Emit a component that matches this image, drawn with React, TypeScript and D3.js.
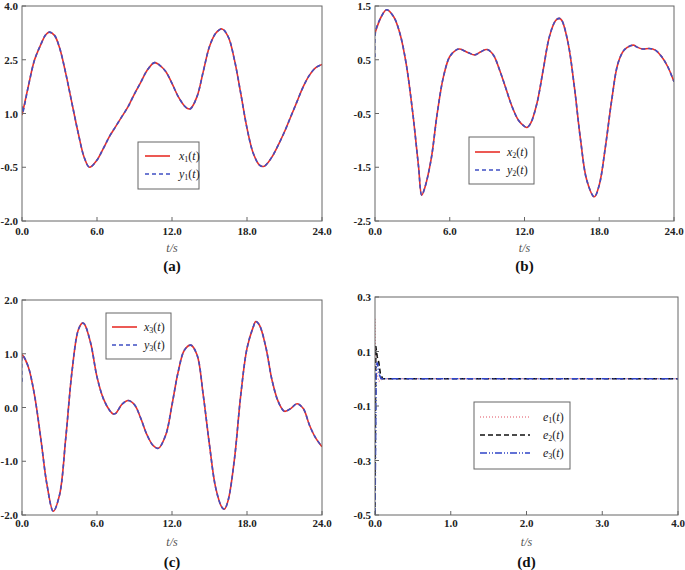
import React from "react";
import * as d3 from "d3";

// ---------- data ----------
const tA = [0, 0.05, 0.5, 1, 1.5, 1.9, 2.2, 2.6, 3, 3.5, 4, 4.5, 5, 5.4, 6, 6.5, 7, 7.5, 8, 8.5, 9, 9.5, 10, 10.6, 11, 11.5, 12, 12.5, 13, 13.3, 13.5, 14, 14.5, 15, 15.5, 16, 16.5, 17, 17.5, 18, 18.5, 19, 19.3, 19.5, 20, 20.5, 21, 21.5, 22, 22.5, 23, 23.5, 24];
const x1 = [0.96, 1.03, 1.75, 2.49, 2.92, 3.2, 3.27, 3.18, 2.84, 2.12, 1.28, 0.45, -0.25, -0.5, -0.3, 0.02, 0.36, 0.64, 0.92, 1.2, 1.55, 1.87, 2.2, 2.42, 2.35, 2.17, 1.84, 1.47, 1.21, 1.13, 1.14, 1.47, 2.17, 2.87, 3.24, 3.36, 3.14, 2.49, 1.56, 0.59, -0.11, -0.44, -0.48, -0.44, -0.21, 0.12, 0.49, 0.91, 1.33, 1.75, 2.07, 2.28, 2.37];
const y1 = [1.2, ...x1.slice(1)];

const tB = [0, 0.05, 0.5, 0.94, 1.5, 2, 2.5, 3, 3.25, 3.5, 3.75, 4, 4.5, 5, 5.5, 6, 6.5, 6.8, 7.5, 8, 8.5, 9, 9.5, 10, 10.5, 11, 11.5, 12, 12.2, 12.5, 13, 13.5, 14, 14.5, 14.8, 15, 15.5, 16, 16.5, 17, 17.6, 18, 18.5, 19, 19.5, 20, 20.5, 20.8, 21, 21.5, 22, 22.5, 23, 23.5, 24];
const x2 = [0.99, 1.03, 1.3, 1.43, 1.3, 0.99, 0.43, -0.43, -0.95, -1.5, -2.02, -1.88, -1.36, -0.49, 0.19, 0.56, 0.68, 0.7, 0.63, 0.59, 0.65, 0.69, 0.59, 0.31, -0.03, -0.37, -0.62, -0.74, -0.76, -0.68, -0.31, 0.31, 0.93, 1.23, 1.27, 1.23, 0.81, 0.0, -0.99, -1.74, -2.05, -1.83, -1.11, -0.25, 0.43, 0.68, 0.76, 0.77, 0.74, 0.7, 0.71, 0.68, 0.56, 0.37, 0.09];
const y2 = [0.55, ...x2.slice(1)];

const tC = [0, 0.05, 0.5, 1, 1.5, 2, 2.5, 3, 3.5, 4, 4.5, 4.83, 5, 5.5, 6, 6.5, 7, 7.3, 7.5, 8, 8.5, 9, 9.5, 10, 10.5, 10.9, 11.5, 12, 12.5, 13, 13.5, 14, 14.5, 15, 15.5, 16, 16.2, 16.5, 17, 17.5, 18, 18.5, 18.7, 19, 19.5, 20, 20.5, 21, 21.5, 22, 22.5, 23, 23.5, 24];
const x3 = [0.98, 0.97, 0.76, 0.23, -0.57, -1.44, -1.93, -1.63, -0.57, 0.67, 1.44, 1.57, 1.55, 1.19, 0.57, 0.17, -0.05, -0.12, -0.11, 0.06, 0.13, 0.05, -0.2, -0.51, -0.71, -0.76, -0.51, 0.05, 0.67, 1.07, 1.16, 0.98, 0.23, -0.7, -1.5, -1.86, -1.89, -1.72, -0.95, 0.23, 1.1, 1.5, 1.6, 1.53, 1.13, 0.51, 0.11, -0.07, -0.02, 0.07, -0.02, -0.33, -0.57, -0.73];
const y3 = [0.48, ...x3.slice(1)];

const tE1 = [0, 0.005, 0.02, 0.05, 0.08, 0.1, 4];
const e1 = [0.22, 0.1, 0.03, -0.01, -0.005, 0, 0];
const tE2 = [0, 0.01, 0.03, 0.05, 0.07, 0.1, 4];
const e2 = [-0.5, 0.12, 0.08, 0.06, 0.02, 0, 0];
const tE3 = [0, 0.015, 0.03, 0.05, 0.08, 4];
const e3 = [-0.5, 0.04, 0.06, 0.02, 0, 0];

const xTicks24 = [0, 6, 12, 18, 24];
const xTicks4 = [0, 1, 2, 3, 4];
const yTicksA = [-2, -0.5, 1, 2.5, 4];
const yTicksB = [-2.5, -1.5, -0.5, 0.5, 1.5];
const yTicksC = [-2, -1, 0, 1, 2];
const yTicksD = [-0.5, -0.3, -0.1, 0.1, 0.3];

const RED = "#e8302a";
const BLUE = "#3f4fc4";
const FRAME = "#666";
const SERIF = "'Liberation Serif', 'Times New Roman', serif";

type Series = { t: number[]; v: number[]; color: string; dash?: string; width: number; curve: any; name: string; sub: string };

function Label({ x, y, name, sub }: { x: number; y: number; name: string; sub: string }) {
  return (
    <text x={x} y={y} fontFamily={SERIF} fontSize={12} fill="#222" dominantBaseline="central">
      <tspan fontStyle="italic">{name}</tspan>
      <tspan fontSize={8} dy={3}>{sub}</tspan>
      <tspan dy={-3}>(</tspan>
      <tspan fontStyle="italic">t</tspan>
      <tspan>)</tspan>
    </text>
  );
}

function Panel(props: {
  box: [number, number, number, number];
  xDomain: [number, number];
  yDomain: [number, number];
  xTicks: number[];
  yTicks: number[];
  series: Series[];
  legend: { x0: number; y0: number; x1: number; y1: number; lx0: number; lx1: number; tx: number; ys: number[] };
  titleY: number;
  capY: number;
  tickY: number;
  cap: string;
}) {
  const [l, t, r, b] = props.box;
  const xs = d3.scaleLinear().domain(props.xDomain).range([l, r]);
  const ys = d3.scaleLinear().domain(props.yDomain).range([b, t]);
  const cid = "clip" + props.cap;
  return (
    <g>
      <defs>
        <clipPath id={cid}>
          <rect x={l} y={t} width={r - l} height={b - t} />
        </clipPath>
      </defs>
      <rect x={l} y={t} width={r - l} height={b - t} fill="white" stroke="none" />
      <g clipPath={`url(#${cid})`}>
        {props.series.map((s, i) => {
          const pts = s.t.map((tt, j) => [tt, s.v[j]] as [number, number]);
          const line = d3
            .line<[number, number]>()
            .x((d) => xs(d[0]))
            .y((d) => ys(d[1]))
            .curve(s.curve);
          return (
            <path key={i} d={line(pts) || ""} fill="none" stroke={s.color} strokeWidth={s.width} strokeDasharray={s.dash} />
          );
        })}
      </g>
      <rect x={l} y={t} width={r - l} height={b - t} fill="none" stroke={FRAME} strokeWidth={1} />
      {props.xTicks.map((v, i) => (
        <g key={"x" + i}>
          <line x1={xs(v)} x2={xs(v)} y1={b} y2={b - 4} stroke={FRAME} />
          <text x={xs(v)} y={props.tickY} textAnchor="middle" fontFamily={SERIF} fontWeight="bold" fontSize={11} fill="#222">
            {v.toFixed(1)}
          </text>
        </g>
      ))}
      {props.yTicks.map((v, i) => (
        <g key={"y" + i}>
          <line x1={l} x2={l + 4} y1={ys(v)} y2={ys(v)} stroke={FRAME} />
          <text x={l - 4} y={ys(v)} textAnchor="end" dominantBaseline="central" fontFamily={SERIF} fontWeight="bold" fontSize={11} fill="#222">
            {v.toFixed(1)}
          </text>
        </g>
      ))}
      <text x={(l + r) / 2} y={props.titleY} textAnchor="middle" fontFamily={SERIF} fontStyle="italic" fontSize={12} fill="#555">
        t/s
      </text>
      <text x={(l + r) / 2} y={props.capY} textAnchor="middle" fontFamily={SERIF} fontWeight="bold" fontSize={15} fill="#111">
        ({props.cap})
      </text>
      <rect
        x={props.legend.x0}
        y={props.legend.y0}
        width={props.legend.x1 - props.legend.x0}
        height={props.legend.y1 - props.legend.y0}
        fill="white"
        stroke={FRAME}
        strokeWidth={1}
      />
      {props.series.map((s, i) => (
        <g key={"lg" + i}>
          <line
            x1={props.legend.lx0}
            x2={props.legend.lx1}
            y1={props.legend.ys[i]}
            y2={props.legend.ys[i]}
            stroke={s.color}
            strokeWidth={s.width}
            strokeDasharray={s.dash}
          />
          <Label x={props.legend.tx} y={props.legend.ys[i]} name={s.name} sub={s.sub} />
        </g>
      ))}
    </g>
  );
}

export default function App() {
  const smooth = d3.curveCatmullRom.alpha(0.5);
  const lin = d3.curveLinear;
  const pair = (t: number[], a: number[], b: number[], n: string): Series[] => [
    { t, v: a, color: RED, width: 1.6, curve: smooth, name: "x", sub: n },
    { t, v: b, color: BLUE, dash: "4,3", width: 1.6, curve: smooth, name: "y", sub: n },
  ];
  return (
    <svg width={685} height={570} style={{ position: "absolute", left: 0, top: 0, background: "white" }}>
      <rect x={0} y={0} width={685} height={570} fill="white" />
      <Panel
        box={[22, 6, 322, 221]}
        xDomain={[0, 24]}
        yDomain={[-2, 4]}
        xTicks={xTicks24}
        yTicks={yTicksA}
        series={pair(tA, x1, y1, "1")}
        legend={{ x0: 138, y0: 142, x1: 199, y1: 189, lx0: 145, lx1: 170, tx: 179, ys: [156, 174] }}
        tickY={235}
        titleY={252}
        capY={271}
        cap="a"
      />
      <Panel
        box={[375, 6, 674, 221]}
        xDomain={[0, 24]}
        yDomain={[-2.5, 1.5]}
        xTicks={xTicks24}
        yTicks={yTicksB}
        series={pair(tB, x2, y2, "2")}
        legend={{ x0: 469, y0: 137, x1: 534, y1: 184, lx0: 475, lx1: 500, tx: 507, ys: [152, 170] }}
        tickY={235}
        titleY={252}
        capY={271}
        cap="b"
      />
      <Panel
        box={[22, 300, 322, 515]}
        xDomain={[0, 24]}
        yDomain={[-2, 2]}
        xTicks={xTicks24}
        yTicks={yTicksC}
        series={pair(tC, x3, y3, "3")}
        legend={{ x0: 106, y0: 313, x1: 171, y1: 359, lx0: 112, lx1: 137, tx: 144, ys: [327, 345] }}
        tickY={527}
        titleY={546}
        capY={567}
        cap="c"
      />
      <Panel
        box={[375, 297, 678, 515]}
        xDomain={[0, 4]}
        yDomain={[-0.5, 0.3]}
        xTicks={xTicks4}
        yTicks={yTicksD}
        series={[
          { t: tE1, v: e1, color: "#e05060", dash: "1,2", width: 1, curve: lin, name: "e", sub: "1" },
          { t: tE2, v: e2, color: "#111", dash: "5,3", width: 1.6, curve: lin, name: "e", sub: "2" },
          { t: tE3, v: e3, color: "#2f44c8", dash: "7,2,1,2,1,2", width: 1.6, curve: lin, name: "e", sub: "3" },
        ]}
        legend={{ x0: 474, y0: 402, x1: 570, y1: 469, lx0: 480, lx1: 530, tx: 543, ys: [417, 435, 453] }}
        tickY={527}
        titleY={546}
        capY={567}
        cap="d"
      />
    </svg>
  );
}
